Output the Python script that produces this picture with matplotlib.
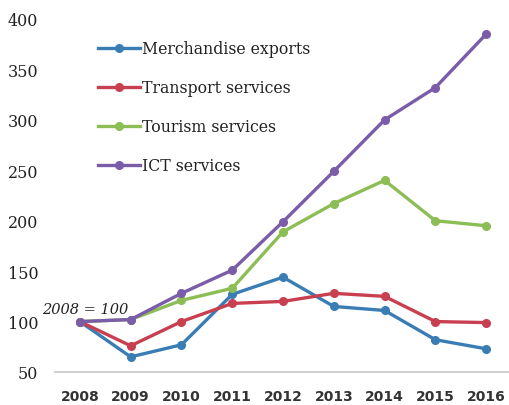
import numpy as np
import matplotlib.pyplot as plt

# Index 2008 = 100
years = [2008, 2009, 2010, 2011, 2012, 2013, 2014, 2015, 2016]
merchandise = [100, 65, 77, 127, 144, 115, 111, 82, 73]
transport = [100, 76, 100, 118, 120, 128, 125, 100, 99]
tourism = [100, 102, 121, 133, 189, 217, 240, 200, 195]
ict = [100, 102, 128, 151, 199, 249, 300, 332, 385]

labels = ['Merchandise exports', 'Transport services', 'Tourism services', 'ICT services']
colors = ['#3a7db5', '#c8404f', '#8dbd55', '#7a5ca8']

fig = plt.figure(figsize=(5.1, 4.06), dpi=100)
ax = fig.add_axes([55 / 510, 33 / 406, 453 / 510, 353 / 406])

for series, label, color in zip([merchandise, transport, tourism, ict], labels, colors):
    ax.plot(years, series, '-o', color=color, label=label, linewidth=2.4,
            markersize=5.5)

ax.set_xlim(2007.51, 2016.43)
ax.set_ylim(50, 400)
ax.set_yticks(np.arange(50, 401, 50))
ax.set_xticks(years)
ax.set_xticklabels([str(y) for y in years], family='DejaVu Sans',
                   fontweight='bold', fontsize=10, color='#333333')
for t in ax.get_yticklabels():
    t.set_family('DejaVu Serif')
    t.set_fontsize(11.5)
    t.set_color('#222222')

for side in ['top', 'right', 'left']:
    ax.spines[side].set_visible(False)
ax.spines['bottom'].set_color('#d0d0d0')
ax.spines['bottom'].set_linewidth(1.5)
ax.tick_params(axis='both', length=0)
ax.tick_params(axis='y', pad=12)
ax.tick_params(axis='x', pad=12)

ax.text(2008.1, 112.5, '2008 = 100', fontsize=10.5, style='italic',
        family='DejaVu Serif', ha='center', va='center', color='#222222')

leg = ax.legend(loc='upper left', bbox_to_anchor=(0.063, 0.98), frameon=False,
                prop={'family': 'DejaVu Serif', 'size': 11.3},
                handlelength=2.7, handletextpad=0.15, labelspacing=1.40)
for text in leg.get_texts():
    text.set_color('#222222')

fig.savefig('out.png', dpi=100)
